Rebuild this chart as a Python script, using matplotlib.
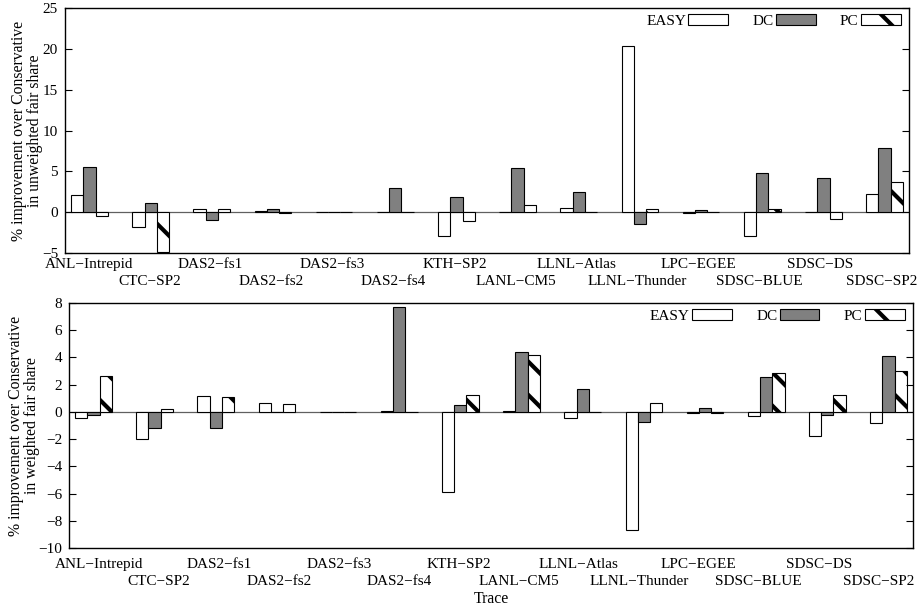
import matplotlib.pyplot as plt
import numpy as np

plt.rcParams['font.family'] = ['Liberation Serif', 'DejaVu Serif']
plt.rcParams['hatch.linewidth'] = 3.0

traces = ["ANL-Intrepid", "CTC-SP2", "DAS2-fs1", "DAS2-fs2", "DAS2-fs3", "DAS2-fs4",
          "KTH-SP2", "LANL-CM5", "LLNL-Atlas", "LLNL-Thunder", "LPC-EGEE",
          "SDSC-BLUE", "SDSC-DS", "SDSC-SP2"]

# unweighted fair share (top panel)
easy_unw = [2.05, -1.8, 0.4, 0.1, 0.05, 0.05, -2.9, 0.05, 0.53, 20.3, -0.05, -2.86, 0.05, 2.17]
dc_unw = [5.48, 1.15, -1.0, 0.4, 0.0, 2.9, 1.8, 5.44, 2.41, -1.39, 0.25, 4.75, 4.13, 7.9]
pc_unw = [-0.45, -4.9, 0.4, -0.05, 0.05, 0.0, -1.1, 0.9, 0.0, 0.33, -0.03, 0.33, -0.82, 3.64]

# weighted fair share (bottom panel)
easy_w = [-0.44, -1.99, 1.15, 0.64, 0.0, 0.03, -5.9, 0.05, -0.42, -8.65, -0.05, -0.32, -1.79, -0.83]
dc_w = [-0.25, -1.18, -1.18, 0.0, 0.0, 7.7, 0.51, 4.41, 1.69, -0.71, 0.29, 2.55, -0.22, 4.09]
pc_w = [2.67, 0.22, 1.1, 0.59, 0.02, -0.02, 1.25, 4.19, 0.0, 0.66, -0.05, 2.87, 1.23, 2.99]

x = np.arange(len(traces))
w = 0.2
names = [t.replace("-", "\u2212") for t in traces]

fig = plt.figure(figsize=(9.17, 6.06), dpi=100)
ax1 = fig.add_axes([0.0709, 0.5825, 0.9204, 0.4043])
ax2 = fig.add_axes([0.0752, 0.0957, 0.9204, 0.4043])


def draw(ax, easy, dc, pc, ylim, yticks, ylabel, xpad, lab_span):
    ax.bar(x - w, easy, w, color="white", edgecolor="black", linewidth=0.8, label="EASY")
    ax.bar(x, dc, w, color="#808080", edgecolor="black", linewidth=0.8, label="DC")
    ax.bar(x + w, pc, w, color="white", edgecolor="black", linewidth=0.8, hatch="\\", label="PC")
    ax.axhline(0, color="#606060", linewidth=0.9, zorder=0.5)
    ax.set_xlim(-0.4, 13.4)
    ax.set_ylim(*ylim)
    ax.set_yticks(yticks)
    # trace names staggered on two rows (gnuplot spaces them a little tighter than the bars)
    lx = np.linspace(lab_span[0], lab_span[1], len(traces))
    ax.set_xticks(lx[0::2])
    ax.set_xticklabels(names[0::2], fontsize=11)
    ax.set_xticks(lx[1::2], minor=True)
    ax.set_xticklabels(names[1::2], minor=True, fontsize=11)
    ax.tick_params(axis="x", which="major", length=0, pad=xpad)
    ax.tick_params(axis="x", which="minor", length=0, pad=xpad + 12.2)
    ax.tick_params(axis="y", direction="in", right=True, length=5, labelsize=11, pad=5)
    ax.set_ylabel(ylabel, fontsize=11.3, linespacing=1.0, labelpad=-1)
    for s in ax.spines.values():
        s.set_linewidth(1.0)
    ax.legend(loc="upper right", bbox_to_anchor=(1.0, 1.008), ncol=3, frameon=False,
              markerfirst=False, fontsize=11, handlelength=2.6, handleheight=0.7,
              handletextpad=0.15, columnspacing=1.6, borderaxespad=0.15)


draw(ax1, easy_unw, dc_unw, pc_unw, (-5, 25), np.arange(-5, 26, 5),
     "% improvement over Conservative\nin unweighted fair share", 3.5, (-0.013, 12.95))
draw(ax2, easy_w, dc_w, pc_w, (-10, 8), np.arange(-10, 9, 2),
     "% improvement over Conservative\nin weighted fair share", 7.5, (0.087, 12.84))
ax2.set_xlabel("Trace", fontsize=11.3, labelpad=2)

fig.savefig("out.png", dpi=100)
